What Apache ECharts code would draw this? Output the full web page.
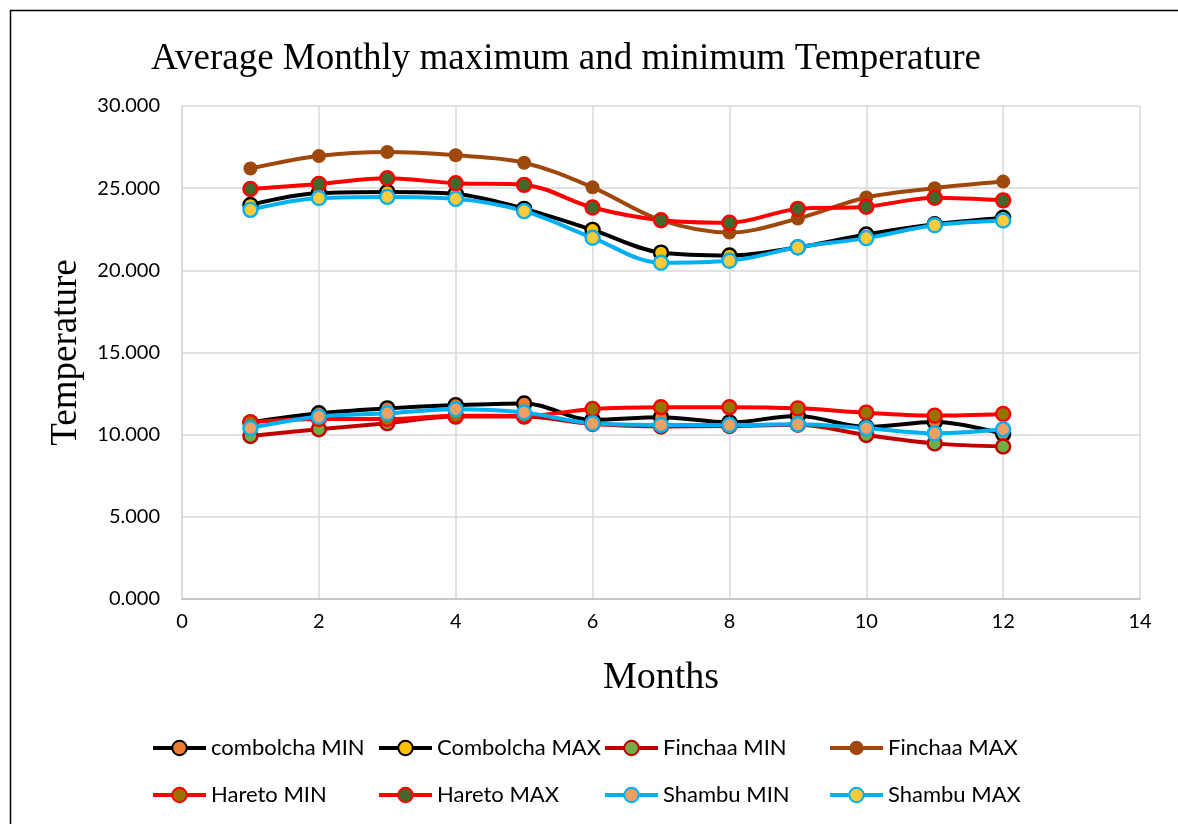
<!DOCTYPE html>
<html>
<head>
<meta charset="utf-8">
<script src="https://cdn.jsdelivr.net/npm/echarts@6/dist/echarts.min.js"></script>
<style>
html,body{margin:0;padding:0;background:#fff;}
#chart{width:1178px;height:824px;}
</style>
</head>
<body>
<div id="chart"></div>
<script>
const months = [1,2,3,4,5,6,7,8,9,10,11,12];
const xTicks = [0,2,4,6,8,10,12,14];
const yTicks = [0,5,10,15,20,25,30];

const combolchaMin = [10.75, 11.30, 11.60, 11.80, 11.90, 10.90, 11.06, 10.75, 11.14, 10.47, 10.77, 10.05];
const combolchaMax = [23.98, 24.70, 24.77, 24.65, 23.74, 22.46, 21.08, 20.90, 21.40, 22.18, 22.80, 23.20];
const finchaaMin   = [9.92, 10.33, 10.70, 11.10, 11.10, 10.65, 10.50, 10.53, 10.60, 9.98, 9.47, 9.28];
const finchaaMax   = [26.20, 26.96, 27.20, 27.00, 26.55, 25.05, 23.05, 22.30, 23.15, 24.43, 25.00, 25.40];
const haretoMin    = [10.75, 10.95, 10.95, 11.15, 11.14, 11.56, 11.67, 11.67, 11.60, 11.34, 11.16, 11.26];
const haretoMax    = [24.95, 25.26, 25.60, 25.30, 25.20, 23.82, 23.05, 22.90, 23.74, 23.87, 24.42, 24.26];
const shambuMin    = [10.40, 11.10, 11.30, 11.55, 11.35, 10.69, 10.59, 10.59, 10.63, 10.39, 10.08, 10.33];
const shambuMax    = [23.68, 24.40, 24.47, 24.35, 23.60, 21.98, 20.46, 20.58, 21.40, 21.96, 22.74, 23.03];

const seriesNames = ['combolcha MIN','Combolcha MAX','Finchaa MIN','Finchaa MAX','Hareto MIN','Hareto MAX','Shambu MIN','Shambu MAX'];
const seriesValues = [combolchaMin, combolchaMax, finchaaMin, finchaaMax, haretoMin, haretoMax, shambuMin, shambuMax];
const lineColors = ['#000000','#000000','#C00000','#9E480E','#FF0000','#FF0000','#00B0F0','#00B0F0'];
const markerFills = ['#ED7D31','#FFC000','#70AD47','#9E480E','#997300','#43682B','#F1A063','#FFCA3A'];

const chart = echarts.init(document.getElementById('chart'), null, {renderer:'canvas'});

const series = seriesNames.map((name, i) => ({
  name: name,
  type: 'line',
  smooth: 0.35,
  data: months.map((m, j) => [m, seriesValues[i][j]]),
  symbol: 'circle',
  symbolSize: 14,
  lineStyle: {color: lineColors[i], width: 4},
  itemStyle: {color: markerFills[i], borderColor: lineColors[i], borderWidth: i === 3 ? 0 : 2.4},
  emphasis: {disabled: true},
  animation: false
}));

const legendPos = [[151,737],[377,737],[603,737],[828,737],[151,784],[377,784],[603,784],[828,784]];
const legends = seriesNames.map((name, i) => ({
  data: [name],
  left: legendPos[i][0],
  top: legendPos[i][1],
  padding: 0,
  itemWidth: 53,
  itemHeight: 18,
  itemGap: 0,
  selectedMode: false,
  lineStyle: {width: 4},
  textStyle: {fontFamily: 'Lato', fontSize: 22, color: '#000'}
}));

const option = {
  backgroundColor: '#fff',
  animation: false,
  title: {
    text: 'Average Monthly maximum and minimum Temperature',
    left: 146,
    top: 36,
    textStyle: {fontFamily: '"Liberation Serif", "DejaVu Serif", serif', fontSize: 37, fontWeight: 'normal', color: '#000'}
  },
  legend: legends,
  grid: {left: 182, right: 38, top: 106, bottom: 225, containLabel: false},
  xAxis: {
    type: 'value',
    min: xTicks[0],
    max: xTicks[xTicks.length - 1],
    interval: 2,
    name: 'Months',
    nameLocation: 'middle',
    nameGap: 60,
    nameTextStyle: {fontFamily: '"Liberation Serif", serif', fontSize: 38, color: '#000'},
    axisLine: {show: true, lineStyle: {color: '#BFBFBF', width: 1.5}},
    axisTick: {show: false},
    axisLabel: {fontFamily: 'Lato', fontSize: 20, color: '#000', margin: 13},
    splitLine: {show: true, lineStyle: {color: '#D9D9D9', width: 1.5}}
  },
  yAxis: {
    type: 'value',
    min: yTicks[0],
    max: yTicks[yTicks.length - 1],
    interval: 5,
    name: 'Temperature',
    nameLocation: 'middle',
    nameGap: 97,
    nameTextStyle: {fontFamily: '"Liberation Serif", serif', fontSize: 37, color: '#000'},
    axisLine: {show: true, lineStyle: {color: '#D9D9D9', width: 1.5}},
    axisTick: {show: false},
    axisLabel: {fontFamily: 'Lato', fontSize: 20, color: '#000', margin: 22, formatter: v => v.toFixed(3)},
    splitLine: {show: true, lineStyle: {color: '#D9D9D9', width: 1.5}}
  },
  graphic: [{
    type: 'rect',
    shape: {x: 10.5, y: 10.5, width: 1300, height: 1000},
    style: {fill: 'none', stroke: '#000', lineWidth: 1.5},
    silent: true,
    z: 100
  }],
  series: series
};
chart.setOption(option);
</script>
</body>
</html>
